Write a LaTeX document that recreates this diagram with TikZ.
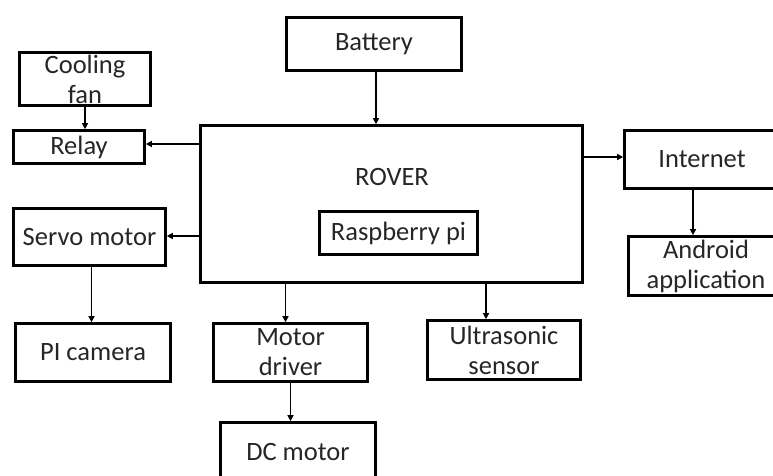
\documentclass[tikz,border=0pt]{standalone}
\usepackage{fontspec}
\setmainfont{Carlito}
\usetikzlibrary{arrows.meta,calc}
\definecolor{txt}{HTML}{262626}
\begin{document}
\begin{tikzpicture}[x=1pt,y=-1pt,
  box/.style={draw=black,line width=2.6pt,rectangle,inner sep=0pt,align=center,
    text=txt,font=\fontsize{26.5}{30}\selectfont},
  lbl/.style={inner sep=0pt,text=txt,font=\fontsize{26.5}{30}\selectfont},
  arr/.style={draw=black,line width=1.3pt,-{Triangle[length=6pt,width=6pt]}}]
\clip (0,0) rectangle (773,476);
\fill[white] (0,0) rectangle (773,476);
% boxes
\node[box,minimum width=175pt,minimum height=53pt] (battery) at (374,44) {Battery};
\node[box,minimum width=131pt,minimum height=53pt] (fan) at (85,79) {Cooling\\fan};
\node[box,minimum width=131pt,minimum height=33pt] (relay) at (79,147) {Relay};
\node[box,minimum width=382pt,minimum height=157pt] (rover) at (391.5,204) {};
\node[lbl] (rovertxt) at (392,177) {ROVER};
\node[box,minimum width=158pt,minimum height=43pt] (rpi) at (398.5,233) {Raspberry pi};
\node[box,minimum width=155pt,minimum height=58pt] (internet) at (702,159.5) {Internet};
\node[box,minimum width=155pt,minimum height=59pt] (android) at (706,266) {Android\\application};
\node[box,minimum width=152pt,minimum height=57pt] (servo) at (89.5,237) {Servo motor};
\node[box,minimum width=155pt,minimum height=58pt] (picam) at (93,352.5) {PI camera};
\node[box,minimum width=154pt,minimum height=58pt] (driver) at (290.5,352.5) {Motor\\driver};
\node[box,minimum width=153pt,minimum height=59pt] (ultra) at (504,350) {Ultrasonic\\sensor};
\node[box,minimum width=155pt,minimum height=59pt] (dcmotor) at (298,452) {DC motor};
% connectors
\draw[arr] ([xshift=2pt]battery.south) -- ([xshift=2pt]battery.south |- rover.north);
\draw[arr] (fan.south) -- (fan.south |- relay.north);
\draw[arr] ([yshift=3pt]rover.west |- relay.east) -- ([yshift=3pt]relay.east);
\draw[arr] ([yshift=1pt]rover.west |- servo.east) -- ([yshift=1pt]servo.east);
\draw[arr] ([xshift=2pt]servo.south) -- ([xshift=2pt]servo.south |- picam.north);
\draw[arr] ([xshift=-5pt]driver.north |- rover.south) -- ([xshift=-5pt]driver.north);
\draw[arr] (driver.south) -- (driver.south |- dcmotor.north);
\draw[arr] ([xshift=-18pt]ultra.north |- rover.south) -- ([xshift=-18pt]ultra.north);
\draw[arr] ([yshift=2.5pt]rover.east |- internet.west) -- ([yshift=2.5pt]internet.west);
\draw[arr] ([xshift=-9pt]internet.south) -- ([xshift=-9pt]internet.south |- android.north);
\end{tikzpicture}
\end{document}
